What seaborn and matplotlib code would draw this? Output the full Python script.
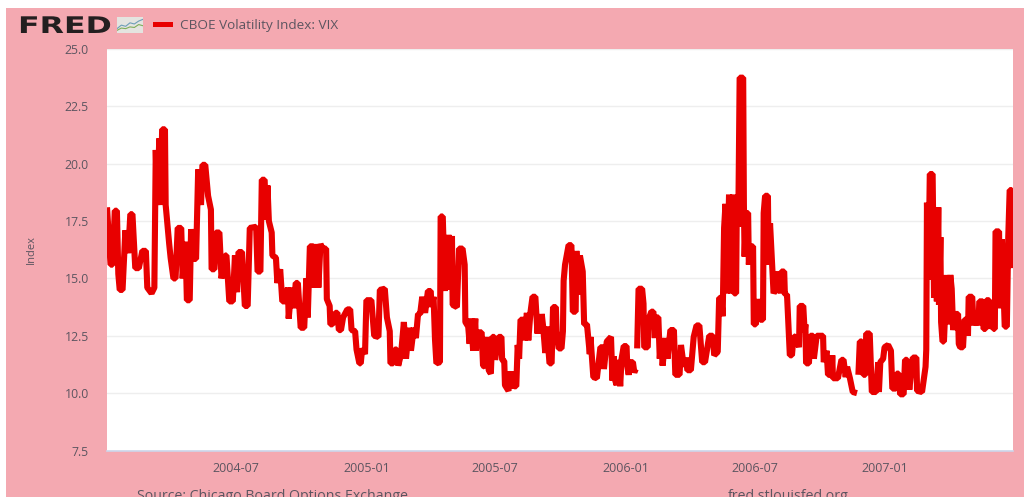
"""FRED style chart of the CBOE Volatility Index, 2004 to mid 2007."""

import matplotlib
matplotlib.use("Agg")
import matplotlib.dates as mdates
import matplotlib.patheffects as pe
import matplotlib.pyplot as plt
import numpy as np
import pandas as pd
import seaborn as sns
from matplotlib.patches import Rectangle
from matplotlib.transforms import Affine2D

days = [
    0, 5, 8, 11, 14, 16, 18, 22, 26, 30, 33, 36, 40, 45, 50, 55,
    57, 63, 67, 69, 71, 74, 76, 78, 82, 83, 88, 90, 94, 97, 100, 105,
    107, 111, 113, 117, 119, 122, 126, 129, 133, 135, 139, 143, 147, 148, 152, 154,
    159, 162, 167, 169, 173, 178, 181, 184, 186, 191, 195, 199, 202, 211, 213, 217,
    219, 223, 225, 227, 229, 233, 234, 239, 241, 245, 248, 252, 256, 257, 261, 264,
    267, 270, 274, 279, 282, 284, 287, 292, 294, 297, 299, 302, 305, 310, 311, 315,
    316, 319, 323, 326, 328, 331, 334, 340, 344, 346, 351, 353, 357, 359, 361, 365,
    367, 374, 378, 384, 386, 393, 396, 400, 401, 405, 407, 410, 412, 416, 420, 423,
    427, 430, 434, 437, 440, 443, 446, 450, 454, 458, 459, 462, 464, 466, 471, 472,
    475, 478, 479, 482, 483, 485, 488, 489, 495, 498, 503, 506, 507, 511, 513, 515,
    518, 521, 522, 524, 530, 532, 535, 538, 540, 543, 545, 548, 549, 554, 558, 559,
    562, 563, 568, 569, 571, 574, 576, 579, 581, 583, 585, 590, 591, 594, 596, 599,
    602, 606, 609, 610, 614, 615, 617, 620, 622, 626, 629, 631, 635, 636, 639, 643,
    645, 646, 648, 653, 657, 659, 663, 664, 667, 669, 673, 675, 679, 683, 684, 688,
    693, 698, 702, 703, 707, 713, 715, 717, 719, 721, 724, 726, 728, 731, 735, 736,
    738, 740, 744, 746, 748, 749, 750, 752, 757, 759, 760, 765, 766, 770, 773, 775,
    776, 780, 782, 784, 786, 790, 793, 797, 802, 804, 810, 812, 816, 819, 821, 826,
    830, 834, 838, 842, 846, 852, 857, 859, 864, 866, 869, 871, 873, 875, 877, 880,
    883, 886, 887, 890, 891, 893, 895, 900, 901, 902, 904, 907, 908, 910, 914, 915,
    918, 920, 924, 928, 929, 931, 935, 936, 938, 943, 947, 950, 953, 954, 958, 959,
    962, 966, 969, 971, 975, 979, 980, 985, 987, 988, 989, 993, 995, 999, 1000, 1004,
    1013, 1014, 1018, 1020, 1025, 1026, 1027, 1034, 1039, 1042, 1045, 1047, 1051, 1055, 1061, 1062,
    1063, 1065, 1068, 1070, 1073, 1074, 1079, 1082, 1088, 1091, 1092, 1094, 1098, 1100, 1105, 1109,
    1111, 1116, 1117, 1120, 1122, 1127, 1129, 1132, 1135, 1140, 1145, 1146, 1153, 1158, 1159, 1160,
    1162, 1164, 1168, 1170, 1172, 1174, 1176, 1177, 1179, 1180, 1182, 1184, 1188, 1190, 1193, 1195,
    1197, 1200, 1204, 1205, 1207, 1211, 1213, 1216, 1218, 1219, 1224, 1226, 1229, 1233, 1234, 1239,
    1240, 1243, 1244, 1248, 1249, 1251, 1254, 1256, 1257, 1262, 1263, 1266, 1270, 1273, 1275, 1277,
    1280, 1281,
]
vix = [
    18.1, 15.6, 15.6, 17.95, 17.95, 15.2, 14.5, 14.5, 17.1, 16.1, 17.8, 17.8, 15.45, 15.45, 16.2, 16.2,
    14.6, 14.35, 14.6, 20.6, 18.2, 21.1, 18.2, 21.5, 21.5, 18.2, 16.5, 15.9, 15.0, 15.0, 17.2, 17.2,
    15.0, 16.6, 14.05, 14.05, 17.15, 15.85, 15.85, 19.75, 18.2, 19.95, 19.95, 18.6, 18.0, 15.4, 15.4, 17.0,
    17.0, 15.0, 16.0, 16.0, 14.0, 14.0, 16.0, 14.4, 16.15, 16.15, 13.8, 13.8, 17.2, 17.25, 15.3, 15.3,
    19.3, 19.3, 17.55, 19.05, 17.5, 17.0, 16.0, 15.9, 14.8, 15.4, 14.0, 14.0, 14.6, 13.25, 14.6, 13.7,
    14.8, 14.8, 12.85, 12.85, 15.0, 13.3, 16.4, 16.4, 14.6, 16.5, 14.6, 16.5, 16.3, 16.3, 14.1, 13.8,
    13.0, 13.0, 13.5, 13.5, 12.75, 12.75, 13.3, 13.65, 13.65, 12.75, 12.7, 11.9, 11.3, 11.3, 11.95, 11.7,
    14.05, 14.05, 12.5, 12.45, 14.5, 14.55, 13.3, 12.7, 11.3, 11.3, 11.9, 11.9, 11.2, 11.7, 13.1, 11.5,
    12.85, 11.85, 12.85, 12.4, 13.45, 13.45, 14.2, 13.5, 14.45, 14.45, 13.75, 14.2, 12.35, 11.3, 11.35, 17.7,
    17.7, 14.45, 16.85, 14.5, 16.9, 14.6, 16.85, 13.85, 13.75, 16.3, 16.3, 15.6, 13.1, 12.9, 12.15, 13.25,
    11.85, 13.25, 11.85, 12.65, 12.65, 11.2, 11.15, 12.45, 11.0, 10.85, 12.45, 12.45, 11.45, 12.45, 12.45, 11.45,
    11.4, 10.35, 10.1, 10.95, 10.2, 10.95, 10.3, 10.3, 12.1, 11.5, 13.2, 13.2, 12.3, 13.5, 12.3, 13.5,
    14.2, 14.2, 12.6, 13.4, 12.6, 13.45, 12.9, 11.75, 12.9, 11.3, 11.3, 13.75, 13.75, 12.7, 11.95, 11.95,
    12.7, 14.9, 15.6, 16.45, 16.45, 13.55, 13.55, 16.2, 14.3, 16.0, 15.3, 13.0, 13.0, 11.7, 12.45, 10.7,
    10.65, 12.0, 12.0, 11.05, 12.25, 12.45, 10.55, 11.6, 10.55, 10.35, 11.45, 10.3, 11.5, 12.05, 12.05, 11.2,
    10.8, 11.35, 11.35, 10.9, 11.05, np.nan, 11.95, 14.55, 14.55, 13.9, 12.0, 12.0, 13.2, 13.55, 13.55, 12.4,
    13.3, 13.3, 11.5, 12.4, 11.2, 12.4, 11.5, 12.75, 12.75, 10.8, 10.8, 12.1, 11.15, 11.55, 11.0, 11.0,
    12.45, 12.95, 12.95, 11.35, 11.35, 12.5, 12.5, 11.65, 11.8, 14.15, 14.15, 13.35, 17.2, 18.25, 14.35, 18.65,
    14.35, 18.65, 14.35, 14.35, 18.3, 17.25, 23.75, 23.75, 18.25, 15.95, 17.85, 17.85, 15.6, 16.4, 16.4, 13.0,
    13.0, 14.1, 13.2, 13.2, 17.85, 18.6, 18.6, 15.6, 17.4, 14.35, 14.6, 15.3, 14.35, 15.3, 15.3, 14.3,
    14.3, 11.65, 11.65, 12.4, 12.5, 12.0, 13.8, 13.8, 12.65, 13.0, 11.3, 11.3, 12.5, 12.5, 11.5, 12.5,
    12.5, 11.35, 11.85, 10.8, 10.8, 11.65, 10.65, 10.65, 11.45, 11.45, 10.7, 11.15, 10.65, 10.05, 10.0, np.nan,
    10.8, 12.25, 12.25, 10.8, 10.8, 12.6, 12.6, 10.05, 10.05, 11.35, 10.05, 11.35, 11.5, 12.0, 12.1, 11.85,
    10.2, 10.2, 10.85, 10.85, 9.95, 9.95, 11.45, 11.45, 10.15, 11.55, 11.55, 10.1, 10.05, 11.15, 11.9, 18.3,
    14.95, 19.55, 19.55, 14.15, 18.1, 14.0, 18.1, 13.85, 16.8, 13.1, 12.25, 12.25, 15.15, 13.0, 15.15, 14.55,
    12.75, 13.45, 13.45, 12.15, 12.0, 12.0, 13.2, 13.2, 12.5, 14.2, 14.2, 12.95, 13.55, 12.95, 14.0, 14.0,
    12.8, 12.8, 14.05, 14.05, 12.8, 13.45, 12.8, 12.8, 17.05, 17.05, 13.7, 16.7, 12.9, 12.9, 16.8, 18.85,
    18.85, 15.45,
]

x_ticks = ["2004-07-01", "2005-01-01", "2005-07-01", "2006-01-01", "2006-07-01", "2007-01-01"]
x_tick_labels = ["2004-07", "2005-01", "2005-07", "2006-01", "2006-07", "2007-01"]
y_ticks = [7.5, 10.0, 12.5, 15.0, 17.5, 20.0, 22.5, 25.0]

# little chart in the FRED logo
icon_x = [0, 1, 2, 3, 4, 5, 6]
icon_blue = [1.0, 2.2, 1.8, 3.0, 2.6, 3.6, 4.2]
icon_green = [0.4, 1.2, 1.0, 1.6, 1.4, 2.4, 2.0]

W, H = 1024, 497
PINK = "#f4a9b1"
RED = "#e80000"
TEXT = "#5c5560"

sns.set_theme(style="white")
plt.rcParams["font.family"] = ["Open Sans", "DejaVu Sans"]


class StretchX(pe.AbstractPathEffect):
    # widens the logo lettering, it stays a real text
    def __init__(self, factor):
        super().__init__()
        self.factor = factor

    def draw_path(self, renderer, gc, tpath, affine, rgbFace=None):
        renderer.draw_path(gc, tpath, Affine2D().scale(self.factor, 1) + affine, rgbFace)


def px_box(left, top, right, bottom):
    return [left / W, 1 - bottom / H, (right - left) / W, (bottom - top) / H]


df = pd.DataFrame({"days": days, "vix": vix})
# the offsets were read in picture pixels, this puts them on the calendar
df["date"] = pd.Timestamp("2004-01-01") + pd.to_timedelta(0.7 + df["days"] * 0.995, unit="D")
df["segment"] = df["vix"].isna().cumsum()

fig = plt.figure(figsize=(W / 100, H / 100), dpi=100, facecolor="white")
fig.add_artist(Rectangle((6 / W, 0), 1 - 6 / W, 1 - 8 / H, transform=fig.transFigure,
                         facecolor=PINK, edgecolor="none", zorder=-5))

ax = fig.add_axes(px_box(106.5, 49, 1013, 450.5))
ax.set_facecolor("white")
sns.lineplot(data=df, x="date", y="vix", units="segment", estimator=None, sort=False,
             color=RED, linewidth=4.4, solid_joinstyle="bevel", solid_capstyle="butt",
             legend=False, ax=ax, zorder=3)

ax.set_xlim(pd.Timestamp("2004-01-01"), pd.Timestamp("2007-06-30"))
ax.set_ylim(7.5, 25)
ax.set_yticks(y_ticks)
ax.set_yticklabels([f"{v:.1f}" for v in y_ticks])
ax.set_xticks(mdates.date2num(pd.to_datetime(x_ticks)))
ax.set_xticklabels(x_tick_labels)
ax.set_xlabel("")
ax.set_ylabel("")
ax.grid(axis="y", color="#eeeeee", linewidth=1)
ax.grid(axis="x", visible=False)
for side in ["top", "right", "left"]:
    ax.spines[side].set_visible(False)
ax.spines["bottom"].set_color("#ccd6eb")
ax.spines["bottom"].set_linewidth(1.2)
ax.tick_params(axis="x", direction="in", length=4, width=0.8, color="#ccd6eb",
               labelsize=9, labelcolor=TEXT, pad=8)
ax.tick_params(axis="y", length=0, labelsize=8.8, labelcolor=TEXT, pad=12.7)

fig.text(31 / W, 1 - 249 / H, "Index", rotation=90, ha="center", va="center",
         fontsize=8, color=TEXT)

# header: logo, icon and legend
logo = fig.text(18 / W, 1 - 33 / H, "FRED", fontsize=16.5, fontweight="bold",
                family="DejaVu Sans", color="#231f20", ha="left", va="baseline")
logo.set_path_effects([StretchX(1.38)])

icon = fig.add_axes(px_box(117, 17, 143, 33))
icon.set_facecolor("#e4e4e0")
sns.lineplot(x=icon_x, y=icon_blue, color="#6d9eb8", linewidth=0.8, ax=icon)
sns.lineplot(x=icon_x, y=icon_green, color="#7fae5a", linewidth=0.8, ax=icon)
icon.set_xlim(0, 6)
icon.set_ylim(-0.5, 5)
icon.axis("off")
icon.add_artist(Rectangle((0, 0), 1, 1, transform=icon.transAxes, facecolor="#e4e4e0",
                          edgecolor="none", zorder=-1))

fig.add_artist(Rectangle((153 / W, 1 - 26.5 / H), 20 / W, 5 / H, transform=fig.transFigure,
                         facecolor=RED, edgecolor="none"))
fig.text(180 / W, 1 - 25 / H, "CBOE Volatility Index: VIX", fontsize=9.7, fontweight="medium",
         color=TEXT, ha="left", va="center")

# footer, cut by the lower edge as in the source
fig.text(137 / W, 1 - 500 / H, "Source: Chicago Board Options Exchange", fontsize=10.2,
         color=TEXT, ha="left", va="baseline")
fig.text(728 / W, 1 - 500 / H, "fred.stlouisfed.org", fontsize=10.2,
         color=TEXT, ha="left", va="baseline")

fig.savefig("out.png", dpi=100, facecolor="white")
